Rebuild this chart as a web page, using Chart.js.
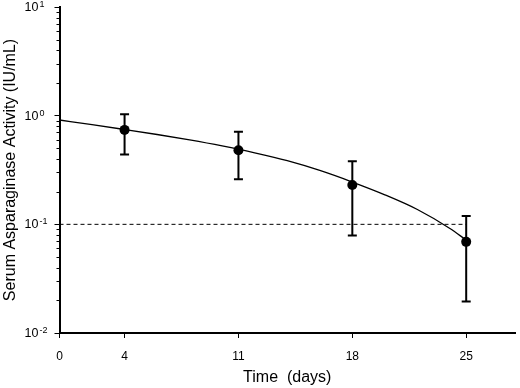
<!DOCTYPE html>
<html>
<head>
<meta charset="utf-8">
<script src="https://cdn.jsdelivr.net/npm/chart.js@4.4.1/dist/chart.umd.min.js"></script>
<style>
  html, body { margin: 0; padding: 0; background: #fff; }
</style>
</head>
<body>
<canvas id="chart" width="520" height="388"></canvas>
<script>
// sampling days and serum activity (IU/mL), mean and error range
const days = [4, 11, 18, 25];
const meanActivity = [0.74, 0.48, 0.23, 0.069];
const upperActivity = [1.03, 0.71, 0.38, 0.119];
const lowerActivity = [0.44, 0.26, 0.079, 0.0195];

// fitted curve
const fitDays = [0, 2, 4, 6, 8, 10, 12, 14, 16, 18, 20, 22, 24, 25];
const fitActivity = [0.912, 0.826, 0.746, 0.671, 0.598, 0.526, 0.455, 0.385, 0.313, 0.245, 0.187, 0.137, 0.0916, 0.0716];

// 0.1 IU/mL threshold
const thresholdDays = [0, 25];
const thresholdLevel = 0.1;

const xTicks = [0, 4, 11, 18, 25];
const yExponents = [-2, -1, 0, 1];

const FONT = "Arial, 'Liberation Sans', sans-serif";

const extras = {
    id: 'extras',
    beforeDatasetsDraw(chart) {
        const { ctx, scales: { x, y } } = chart;
        ctx.save();
        ctx.strokeStyle = '#000';
        ctx.lineWidth = 2;
        days.forEach((d, i) => {
            const px = x.getPixelForValue(d);
            const top = y.getPixelForValue(upperActivity[i]);
            const bot = y.getPixelForValue(lowerActivity[i]);
            ctx.beginPath();
            ctx.moveTo(px, top); ctx.lineTo(px, bot);
            ctx.moveTo(px - 4.5, top); ctx.lineTo(px + 4.5, top);
            ctx.moveTo(px - 4.5, bot); ctx.lineTo(px + 4.5, bot);
            ctx.stroke();
        });
        ctx.restore();
    },
    afterDraw(chart) {
        const { ctx, chartArea, scales: { y } } = chart;
        ctx.save();
        // minor ticks on the log axis
        ctx.strokeStyle = '#000';
        ctx.lineWidth = 1;
        for (let e = -2; e < 1; e++) {
            for (let k = 2; k <= 9; k++) {
                const py = Math.round(y.getPixelForValue(k * Math.pow(10, e))) + 0.5;
                ctx.beginPath();
                ctx.moveTo(chartArea.left - 3, py);
                ctx.lineTo(chartArea.left, py);
                ctx.stroke();
            }
        }
        // 10^n labels
        ctx.fillStyle = '#000';
        yExponents.forEach(e => {
            const py = y.getPixelForValue(Math.pow(10, e));
            ctx.font = '12.5px ' + FONT;
            ctx.textAlign = 'right';
            ctx.textBaseline = 'middle';
            ctx.fillText('10', 38.5, py + 0.5);
            ctx.font = '9px ' + FONT;
            ctx.textAlign = 'left';
            ctx.textBaseline = 'alphabetic';
            ctx.fillText(String(e), 39.5, py);
        });
        ctx.restore();
    }
};

new Chart(document.getElementById('chart'), {
    type: 'scatter',
    data: {
        datasets: [
            {
                label: 'fit',
                data: fitDays.map((d, i) => ({ x: d, y: fitActivity[i] })),
                showLine: true,
                borderColor: '#000',
                borderWidth: 1.3,
                pointRadius: 0,
                cubicInterpolationMode: 'monotone'
            },
            {
                label: 'threshold',
                data: thresholdDays.map(d => ({ x: d, y: thresholdLevel })),
                showLine: true,
                borderColor: '#000',
                borderWidth: 1,
                borderDash: [4, 3],
                pointRadius: 0
            },
            {
                label: 'mean',
                data: days.map((d, i) => ({ x: d, y: meanActivity[i] })),
                pointRadius: 5,
                pointBackgroundColor: '#000',
                pointBorderColor: '#000',
                borderWidth: 0
            }
        ]
    },
    options: {
        responsive: false,
        animation: false,
        devicePixelRatio: 1,
        layout: { padding: { top: 7, right: 2, left: 0, bottom: 0 } },
        plugins: { legend: { display: false }, tooltip: { enabled: false } },
        scales: {
            x: {
                type: 'linear',
                min: 0,
                max: 28,
                afterBuildTicks: s => { s.ticks = xTicks.map(v => ({ value: v })); },
                afterFit: s => { s.height = 55; },
                border: { color: '#000', width: 2 },
                grid: { drawOnChartArea: false, color: '#000', tickLength: 5, lineWidth: 1 },
                ticks: { color: '#000', font: { family: FONT, size: 12 }, padding: 11, maxRotation: 0 },
                title: {
                    display: true,
                    text: 'Time  (days)',
                    color: '#000',
                    font: { family: FONT, size: 16 },
                    padding: { top: 0, bottom: 1 }
                }
            },
            y: {
                type: 'logarithmic',
                min: 0.01,
                max: 10,
                afterBuildTicks: s => { s.ticks = yExponents.map(e => ({ value: Math.pow(10, e) })); },
                afterFit: s => { s.width = 59.5; },
                border: { color: '#000', width: 2 },
                grid: { drawOnChartArea: false, color: '#000', tickLength: 5, lineWidth: 1 },
                ticks: { display: false },
                title: {
                    display: true,
                    text: 'Serum Asparaginase Activity (IU/mL)',
                    color: '#000',
                    font: { family: FONT, size: 16 },
                    padding: { top: 1, bottom: 0 }
                }
            }
        }
    },
    plugins: [extras]
});
</script>
</body>
</html>
